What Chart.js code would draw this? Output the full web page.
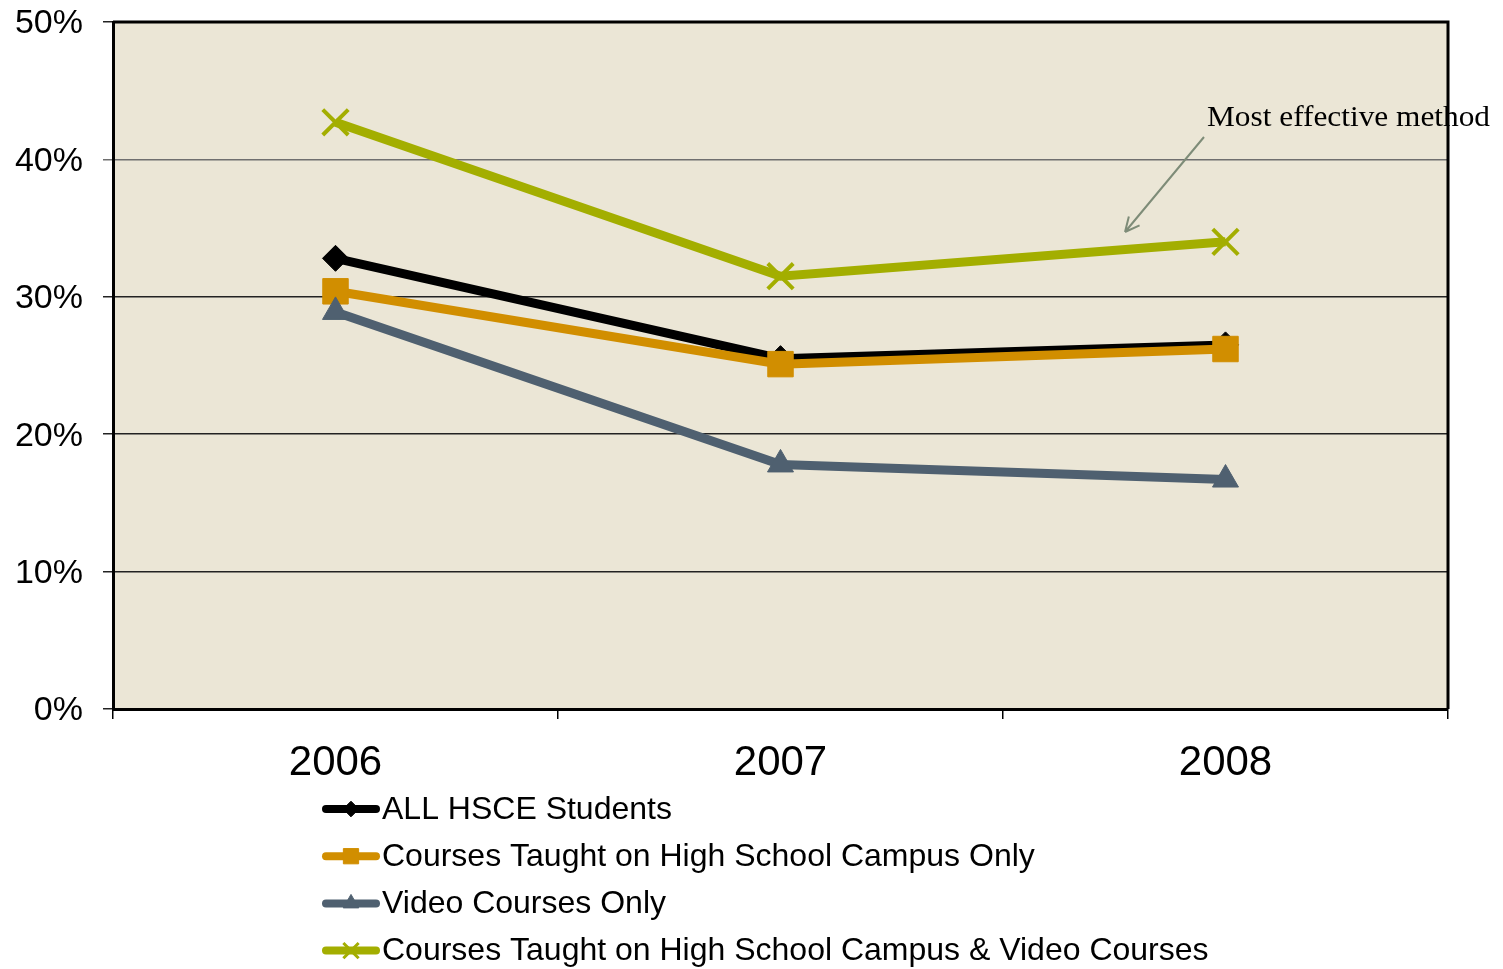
<!DOCTYPE html>
<html>
<head>
<meta charset="utf-8">
<script src="https://cdn.jsdelivr.net/npm/chart.js@4/dist/chart.umd.min.js"></script>
<style>
html,body{margin:0;padding:0;background:#fff;}
#wrap{width:1503px;height:969px;position:relative;}
</style>
</head>
<body>
<div id="wrap"><canvas id="c" width="1503" height="969"></canvas></div>
<script>
const categories = ['2006', '2007', '2008'];
const seriesNames = [
  'ALL HSCE Students',
  'Courses Taught on High School Campus Only',
  'Video Courses Only',
  'Courses Taught on High School Campus & Video Courses'
];
const allStudents = [32.8, 25.5, 26.5];
const campusOnly = [30.4, 25.1, 26.2];
const videoOnly = [28.9, 17.8, 16.7];
const campusAndVideo = [42.7, 31.5, 34.0];
const yTicks = [0, 10, 20, 30, 40, 50];
const annotationText = 'Most effective method';

const colors = ['#000000', '#D18E00', '#4F6070', '#A3AE00'];
const styles = ['rectRot', 'rect', 'triangle', 'crossRot'];
const radii = [13, 18, 15, 18];
const values = [allStudents, campusOnly, videoOnly, campusAndVideo];

const datasets = values.map((v, i) => ({
  label: seriesNames[i],
  data: v,
  borderColor: colors[i],
  backgroundColor: colors[i],
  borderWidth: 9,
  pointStyle: styles[i],
  pointRadius: radii[i],
  pointBorderWidth: i === 3 ? 4 : 1,
  pointBorderColor: colors[i],
  pointBackgroundColor: colors[i],
  tension: 0,
  order: 3 - i
}));

const framePlugin = {
  id: 'frame',
  beforeDraw(chart) {
    const {ctx, chartArea: a} = chart;
    ctx.save();
    ctx.fillStyle = '#EBE6D6';
    ctx.fillRect(a.left, a.top, a.right - a.left, a.bottom - a.top);
    ctx.restore();
  },
  afterDatasetsDraw(chart) {
    const {ctx, chartArea: a} = chart;
    ctx.save();
    ctx.strokeStyle = '#000';
    ctx.lineWidth = 3;
    ctx.beginPath();
    ctx.moveTo(a.left, a.top);
    ctx.lineTo(a.right, a.top);
    ctx.lineTo(a.right, a.bottom);
    ctx.stroke();
    // annotation
    ctx.fillStyle = '#000';
    const fam = '"Liberation Serif", "DejaVu Serif", serif';
    const fs = 30;
    ctx.font = fs + 'px ' + fam;
    const w = ctx.measureText(annotationText).width;
    ctx.textBaseline = 'alphabetic';
    ctx.textAlign = 'left';
    ctx.translate(1207, 126);
    ctx.scale(283 / w, 1);
    ctx.fillText(annotationText, 0, 0);
    ctx.setTransform(1, 0, 0, 1, 0, 0);
    // arrow
    const x1 = 1204, y1 = 137, x2 = 1125, y2 = 232;
    ctx.strokeStyle = '#7E8C78';
    ctx.lineWidth = 2;
    ctx.beginPath();
    ctx.moveTo(x1, y1);
    ctx.lineTo(x2, y2);
    const ang = Math.atan2(y2 - y1, x2 - x1);
    const L = 16;
    ctx.moveTo(x2, y2);
    ctx.lineTo(x2 - L * Math.cos(ang - 0.45), y2 - L * Math.sin(ang - 0.45));
    ctx.moveTo(x2, y2);
    ctx.lineTo(x2 - L * Math.cos(ang + 0.45), y2 - L * Math.sin(ang + 0.45));
    ctx.stroke();
    ctx.restore();
  },
  afterDraw(chart) {
    const {ctx} = chart;
    ctx.save();
    chart.data.datasets.forEach((ds, i) => {
      const y = 809 + i * 47.2;
      ctx.strokeStyle = ds.borderColor;
      ctx.lineWidth = 8;
      ctx.lineCap = 'round';
      ctx.beginPath();
      ctx.moveTo(326, y);
      ctx.lineTo(376, y);
      ctx.stroke();
      ctx.lineCap = 'butt';
      ctx.fillStyle = ds.borderColor;
      ctx.strokeStyle = ds.borderColor;
      ctx.lineWidth = i === 3 ? 3 : 1;
      Chart.helpers.drawPoint(ctx, {
        pointStyle: ds.pointStyle,
        radius: ds.pointRadius * 0.6,
        borderWidth: i === 3 ? 3 : 1,
        rotation: 0
      }, 351, y);
      ctx.fillStyle = '#000';
      ctx.font = '32px "Liberation Sans", Arial, sans-serif';
      ctx.textBaseline = 'middle';
      ctx.textAlign = 'left';
      ctx.fillText(ds.label, 382, y + 1);
    });
    ctx.restore();
  }
};

new Chart(document.getElementById('c'), {
  type: 'line',
  data: { labels: categories, datasets },
  options: {
    responsive: false,
    animation: false,
    devicePixelRatio: 1,
    layout: { padding: { top: 22, right: 55, left: 0, bottom: 0 } },
    plugins: { legend: { display: false }, tooltip: { enabled: false } },
    scales: {
      x: {
        offset: true,
        grid: { offset: true, drawOnChartArea: false, drawTicks: true, tickLength: 10, color: '#000', lineWidth: 1.5 },
        border: { color: '#000', width: 3 },
        ticks: { color: '#000', font: { size: 42, family: '"Liberation Sans", Arial, sans-serif' }, padding: 19, maxRotation: 0 },
        afterFit(s) { s.height = 260; s.paddingLeft = 0; s.paddingRight = 0; }
      },
      y: {
        min: 0, max: 50,
        afterBuildTicks(s) { s.ticks = yTicks.map(v => ({ value: v })); },
        grid: {
          color: ctx => ctx.tick && ctx.tick.value === 40 ? '#6f6f6f' : '#222',
          lineWidth: 1.5, tickLength: 10, drawTicks: true
        },
        border: { color: '#000', width: 3 },
        ticks: {
          color: '#000', padding: 20, labelOffset: 2,
          font: { size: 34, family: '"Liberation Sans", Arial, sans-serif' },
          callback: v => v + '%'
        },
        afterFit(s) { s.width = 113; s.paddingTop = 0; s.paddingBottom = 0; }
      }
    }
  },
  plugins: [framePlugin]
});
</script>
</body>
</html>
